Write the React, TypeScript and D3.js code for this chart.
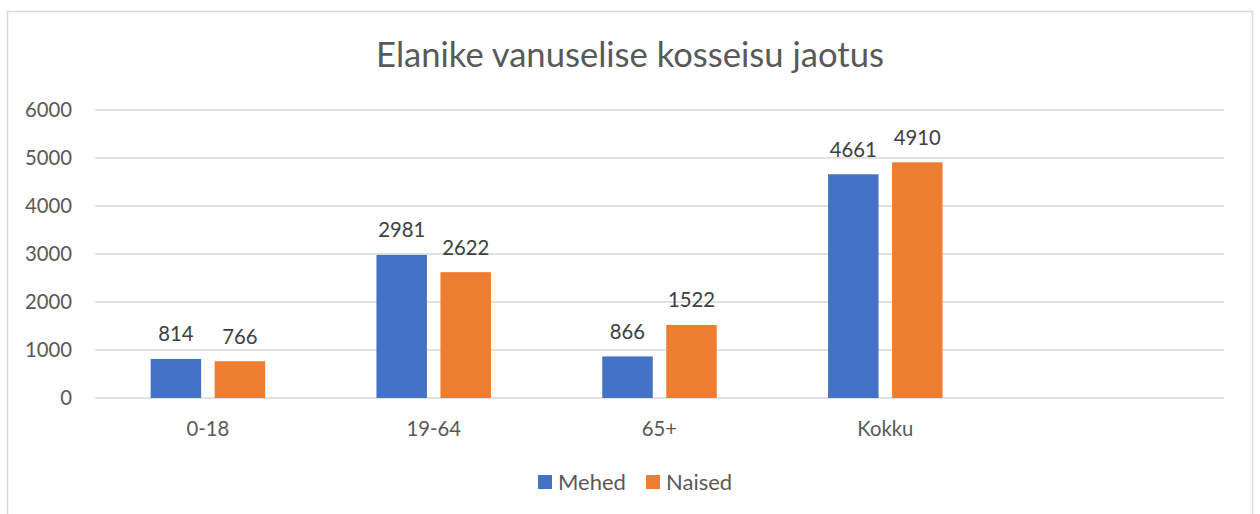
import React from "react";
import * as d3 from "d3";

const categories = ["0-18", "19-64", "65+", "Kokku", ""];
const seriesNames = ["Mehed", "Naised"];
const mehed = [814, 2981, 866, 4661, null];
const naised = [766, 2622, 1522, 4910, null];
const yTicks = [0, 1000, 2000, 3000, 4000, 5000, 6000];
const title = "Elanike vanuselise kosseisu jaotus";

const colors = ["#4472C4", "#ED7D31"];
const textColor = "#595959";
const gridColor = "#D9D9D9";
const FONT = "Lato, 'Noto Sans', sans-serif";

export default function App() {
  const W = 1260;
  const H = 514;
  const x = d3.scaleBand<string>().domain(categories.map((c, i) => i + ":" + c)).range([95, 1224]).padding(0);
  const y = d3.scaleLinear().domain([0, 6000]).range([398, 110]);
  const groupW = 114.5;
  const inner = d3.scaleBand<string>().domain(seriesNames).range([0, groupW]).paddingInner(0.211).paddingOuter(0);
  const series = [mehed, naised];

  return (
    <svg width={W} height={H} style={{ position: "absolute", left: 0, top: 0, background: "#fff" }} fontFamily={FONT}>
      <rect x={7.5} y={11.5} width={1245} height={520} fill="#fff" stroke={gridColor} strokeWidth={1.5} />
      <text x={630} y={67} textAnchor="middle" fontSize={34.6} fill={textColor}>{title}</text>
      {yTicks.map((t) => (
        <g key={t}>
          <line x1={95} x2={1224} y1={y(t)} y2={y(t)} stroke={gridColor} strokeWidth={1.5} />
          <text x={72} y={y(t)} dy="0.35em" textAnchor="end" fontSize={20.3} fill={textColor}>{t}</text>
        </g>
      ))}
      {categories.map((c, i) => {
        const key = i + ":" + c;
        const cx = (x(key) as number) + x.bandwidth() / 2;
        const gx = cx - groupW / 2;
        return (
          <g key={key}>
            <text x={cx} y={436} textAnchor="middle" fontSize={20.3} fill={textColor}>{c}</text>
            {series.map((s, si) => {
              const v = s[i];
              if (v == null) return null;
              const bx = gx + (inner(seriesNames[si]) as number);
              const bw = inner.bandwidth();
              return (
                <g key={si}>
                  <rect x={bx} y={y(v)} width={bw} height={y(0) - y(v)} fill={colors[si]} />
                  <text x={bx + bw / 2} y={y(v) - 17.5} textAnchor="middle" fontSize={20.3} fill="#404040">{v}</text>
                </g>
              );
            })}
          </g>
        );
      })}
      {seriesNames.map((n, i) => {
        const lx = [538, 646][i];
        return (
          <g key={n}>
            <rect x={lx} y={475} width={14} height={14} fill={colors[i]} />
            <text x={lx + 20} y={490} fontSize={22} fill={textColor}>{n}</text>
          </g>
        );
      })}
    </svg>
  );
}
